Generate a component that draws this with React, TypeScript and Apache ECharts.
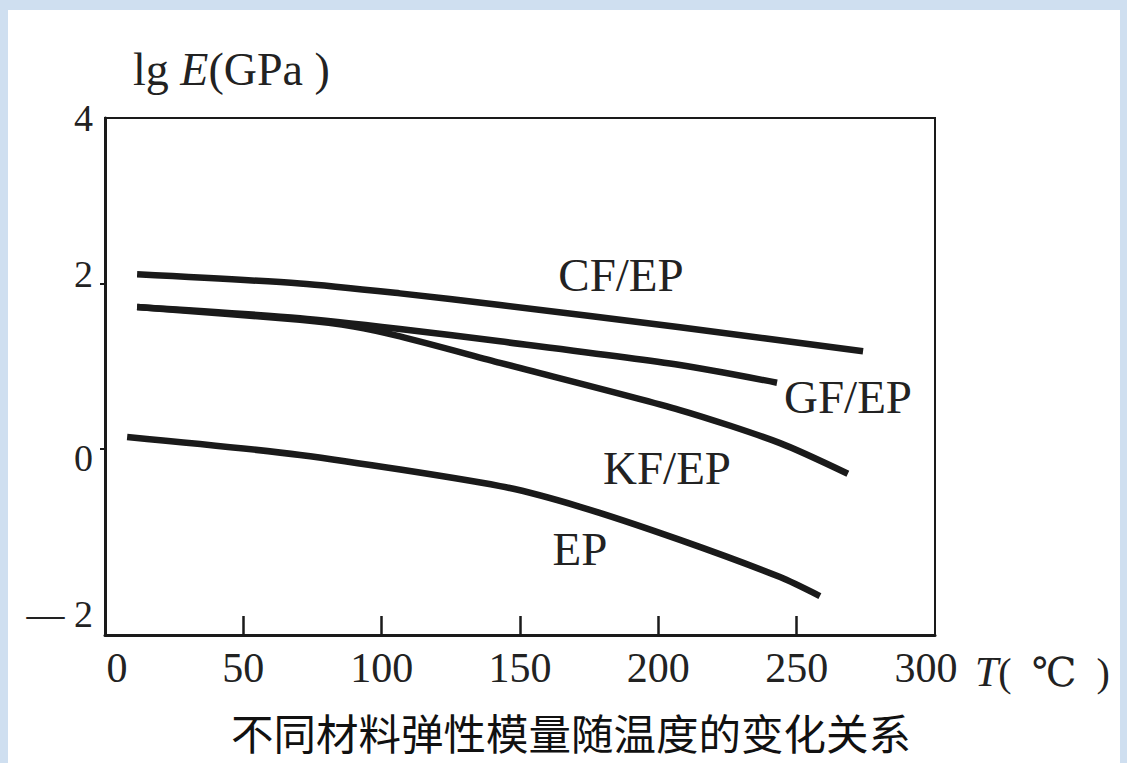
import React, { useEffect, useRef } from "react";
import * as echarts from "echarts";

// Temperature T (°C) and lg E (GPa)
const cfT = [11.6, 70.5, 106.6, 142.8, 207.8, 274.0];
const cfE = [2.11, 2.0, 1.88, 1.74, 1.47, 1.18];

const gfT = [11.6, 70.5, 106.6, 142.8, 207.8, 242.9];
const gfE = [1.715, 1.58, 1.45, 1.3, 1.014, 0.8];

const kfT = [11.6, 70.5, 90, 106.6, 142.8, 207.8, 244.0, 268.5];
const kfE = [1.715, 1.56, 1.48, 1.36, 1.04, 0.47, 0.07, -0.3];

const epT = [8.0, 70.5, 142.8, 171.7, 207.8, 244.0, 258.4];
const epE = [0.144, -0.074, -0.45, -0.7, -1.1, -1.55, -1.78];

const seriesNames = ["CF/EP", "GF/EP", "KF/EP", "EP"];
const xTickLabels = [0, 50, 100, 150, 200, 250, 300];
const xTicks = [50, 100, 150, 200, 250];
const yTickLabels = [-2, 0, 2, 4];
const yTicks = [0, 2];
const title = "不同材料弹性模量随温度的变化关系";

const SERIF = "'Liberation Serif', 'DejaVu Serif', 'Noto Sans CJK SC', serif";
const INK = "#1a1a1a";
const TXT = "#222";

function pairs(xs: number[], ys: number[]) {
  return xs.map((x, i) => [x, ys[i]]);
}

export default function App() {
  const ref = useRef<HTMLDivElement>(null);
  useEffect(() => {
    if (!ref.current) return;
    const chart = echarts.init(ref.current, null, { renderer: "svg" });
    const data = [pairs(cfT, cfE), pairs(gfT, gfE), pairs(kfT, kfE), pairs(epT, epE)];
    const labelPos = [
      [621, 275],
      [848, 397],
      [667, 468],
      [580, 549],
    ];
    const yRich = {
      up: { fontFamily: SERIF, fontSize: 38, color: TXT, padding: [0, 0, 18, 0] },
      dn: { fontFamily: SERIF, fontSize: 38, color: TXT, padding: [18, 0, 0, 0] },
    };
    chart.setOption({
      animation: false,
      backgroundColor: "#cfdff0",
      title: {
        text: title,
        left: 226,
        top: 704,
        textStyle: {
          fontFamily: "'Noto Sans CJK SC', sans-serif",
          fontWeight: "normal",
          fontSize: 42.5,
          lineHeight: 44,
          color: "#111",
        },
      },
      grid: {
        left: 105,
        right: 192,
        top: 118,
        bottom: 128,
        show: true,
        borderColor: INK,
        borderWidth: 2,
        backgroundColor: "transparent",
        containLabel: false,
        outerBoundsMode: "none",
      },
      xAxis: {
        type: "value",
        min: 0,
        max: 300,
        splitLine: { show: false },
        axisLine: { show: true, onZero: false, lineStyle: { color: INK, width: 3 } },
        axisTick: {
          show: true,
          inside: true,
          length: 19,
          customValues: xTicks,
          lineStyle: { color: INK, width: 2.5 },
        },
        axisLabel: {
          customValues: xTickLabels,
          margin: 12,
          color: TXT,
          fontFamily: SERIF,
          fontSize: 42,
          formatter: (v: number) => {
            if (v === 0) return "{l|0}";
            if (v === 300) return "{r|300}";
            return String(v);
          },
          rich: {
            l: { fontFamily: SERIF, fontSize: 42, color: TXT, padding: [0, 0, 0, 24] },
            r: { fontFamily: SERIF, fontSize: 42, color: TXT, padding: [0, 18, 0, 0] },
          },
        },
        name: "{i|T}{n|(  ℃  )}",
        nameLocation: "end",
        nameGap: 40,
        nameTextStyle: {
          verticalAlign: "top",
          padding: [16, 0, 0, 0],
          rich: {
            i: { fontFamily: SERIF, fontStyle: "italic", fontSize: 42, color: TXT },
            n: { fontFamily: SERIF, fontSize: 40, color: TXT },
          },
        },
      },
      yAxis: {
        type: "value",
        min: -2.25,
        max: 4,
        splitLine: { show: false },
        axisLine: { show: true, onZero: false, lineStyle: { color: INK, width: 3 } },
        axisTick: {
          show: true,
          inside: false,
          length: 5,
          customValues: yTicks,
          lineStyle: { color: INK, width: 2 },
        },
        axisLabel: {
          customValues: yTickLabels,
          margin: 12,
          color: TXT,
          fontFamily: SERIF,
          fontSize: 38,
          formatter: (v: number) => {
            if (v === -2) return "— 2";
            if (v === 2) return "{up|2}";
            if (v === 0) return "{dn|0}";
            return String(v);
          },
          rich: yRich,
        },
        name: "{n|lg }{i|E}{n|(GPa )}",
        nameLocation: "end",
        nameGap: 26,
        nameTextStyle: {
          align: "left",
          verticalAlign: "bottom",
          padding: [0, 0, 0, 28],
          rich: {
            i: { fontFamily: SERIF, fontStyle: "italic", fontSize: 46, color: TXT },
            n: { fontFamily: SERIF, fontSize: 46, color: TXT },
          },
        },
      },
      graphic: [
        {
          type: "rect",
          z: -10,
          silent: true,
          shape: { x: 8, y: 10, width: 1112, height: 753 },
          style: { fill: "#ffffff" },
        },
        ...seriesNames.map((n, i) => ({
          type: "text",
          x: labelPos[i][0],
          y: labelPos[i][1],
          silent: true,
          style: {
            text: n,
            fontFamily: SERIF,
            fontSize: 47,
            fill: TXT,
            align: "center",
            verticalAlign: "middle",
          },
        })),
      ],
      series: seriesNames.map((n, i) => ({
        name: n,
        type: "line",
        data: data[i],
        smooth: 0.25,
        symbol: "none",
        lineStyle: { color: INK, width: 6.5 },
      })),
    });
    return () => chart.dispose();
  }, []);
  return (
    <div
      ref={ref}
      style={{ position: "absolute", left: 0, top: 0, width: 1127, height: 763 }}
    />
  );
}
